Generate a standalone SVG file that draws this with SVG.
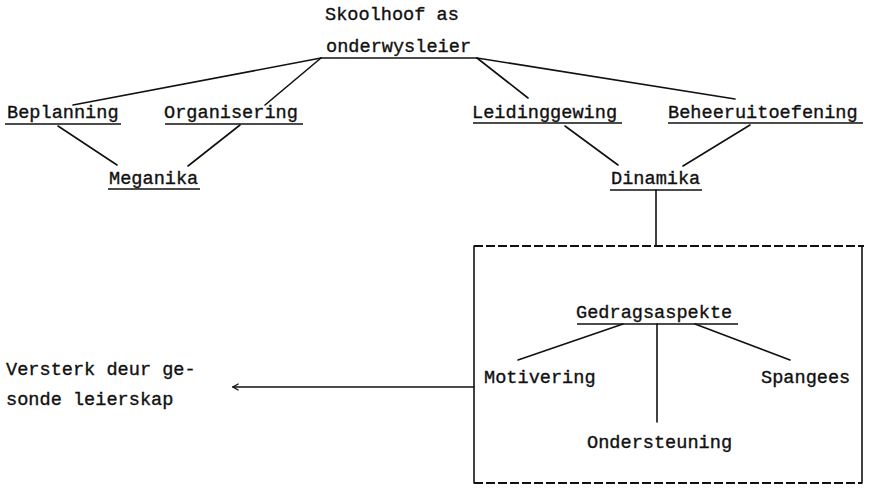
<svg xmlns="http://www.w3.org/2000/svg" width="872" height="495" viewBox="0 0 872 495">
<defs>
<style>
text{font-family:"Liberation Mono","Courier New",monospace;font-size:18.6px;fill:#111;stroke:#111;stroke-width:0.35;}
.ln{stroke:#111;stroke-width:1.6;fill:none;stroke-linecap:round;}
.ul{stroke:#111;stroke-width:1.6;fill:none;}
.dash{stroke:#111;stroke-width:1.8;fill:none;stroke-dasharray:9 3;}
</style>
<marker id="arr" viewBox="0 0 10 10" refX="9" refY="5" markerWidth="8" markerHeight="8" orient="auto" markerUnits="userSpaceOnUse">
<path d="M2,1 L9,5 L2,9" fill="none" stroke="#111" stroke-width="1.6"/>
</marker>
</defs>
<rect width="872" height="495" fill="#fff"/>

<g id="connectors">
<line class="ln" x1="321" y1="58" x2="73" y2="105"/>
<line class="ln" x1="321" y1="58" x2="265" y2="105"/>
<line class="ln" x1="477" y1="58" x2="528" y2="98"/>
<line class="ln" x1="477" y1="58" x2="735" y2="99"/>
<line class="ln" x1="58" y1="126" x2="117" y2="165"/>
<line class="ln" x1="240" y1="125" x2="188" y2="166"/>
<line class="ln" x1="565" y1="126" x2="618" y2="165"/>
<line class="ln" x1="750" y1="125" x2="683" y2="166"/>
<line class="ln" x1="656" y1="190" x2="656" y2="246"/>
<line class="ln" x1="623" y1="324" x2="518" y2="360"/>
<line class="ln" x1="695" y1="324" x2="790" y2="360"/>
<line class="ln" x1="657" y1="324" x2="657" y2="422"/>
<line class="ln" x1="474" y1="387" x2="233" y2="387" marker-end="url(#arr)"/>
</g>

<g id="box">
<line class="dash" x1="474" y1="246" x2="864" y2="246"/>
<line class="dash" x1="474" y1="483" x2="862" y2="483"/>
<line class="ln" x1="474" y1="246" x2="474" y2="483"/>
<line class="ln" x1="862" y1="246" x2="862" y2="483"/>
</g>

<g id="skoolhoof">
<text x="325" y="20">Skoolhoof as</text>
<text x="326" y="52">onderwysleier</text>
<line class="ul" x1="320" y1="58" x2="477" y2="58"/>
</g>

<g id="beplanning">
<text x="7" y="118">Beplanning</text>
<line class="ul" x1="5" y1="124" x2="121" y2="124"/>
</g>

<g id="organisering">
<text x="164" y="118">Organisering</text>
<line class="ul" x1="165" y1="124" x2="303" y2="124"/>
</g>

<g id="leidinggewing">
<text x="472" y="118">Leidinggewing</text>
<line class="ul" x1="473" y1="123" x2="622" y2="123"/>
</g>

<g id="beheeruitoefening">
<text x="668" y="118">Beheeruitoefening</text>
<line class="ul" x1="668" y1="123" x2="863" y2="123"/>
</g>

<g id="meganika">
<text x="109" y="184">Meganika</text>
<line class="ul" x1="108" y1="189" x2="200" y2="189"/>
</g>

<g id="dinamika">
<text x="611" y="184">Dinamika</text>
<line class="ul" x1="610" y1="190" x2="702" y2="190"/>
</g>

<g id="gedragsaspekte">
<text x="576" y="318">Gedragsaspekte</text>
<line class="ul" x1="577" y1="324" x2="738" y2="324"/>
</g>

<g id="motivering">
<text x="484" y="383">Motivering</text>
</g>

<g id="spangees">
<text x="761" y="383">Spangees</text>
</g>

<g id="ondersteuning">
<text x="587" y="448">Ondersteuning</text>
</g>

<g id="versterk">
<text x="6" y="375">Versterk deur ge-</text>
<text x="6" y="405">sonde leierskap</text>
</g>
</svg>
